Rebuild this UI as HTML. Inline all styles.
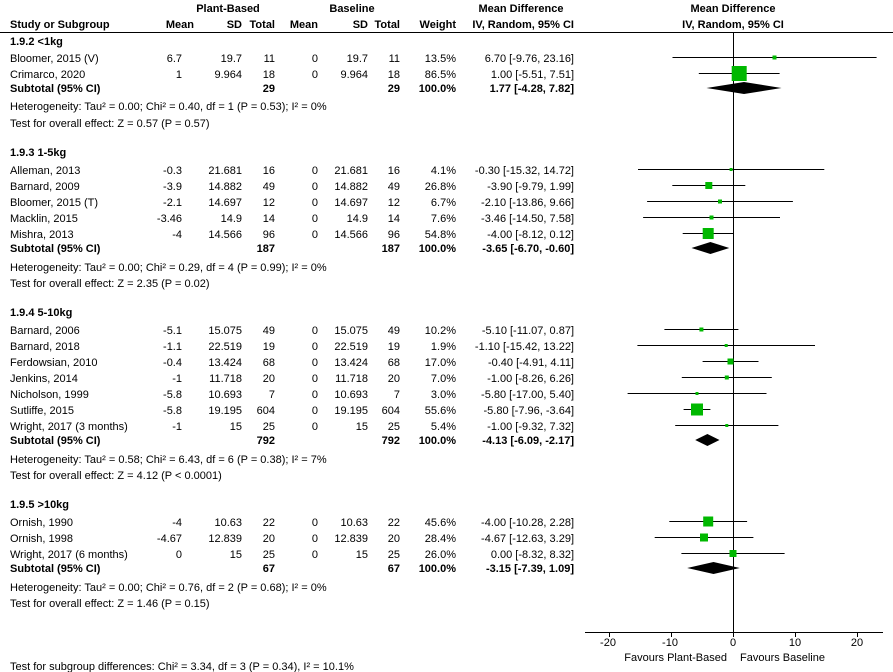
<!DOCTYPE html>
<html><head><meta charset="utf-8"><style>
body{margin:0;background:#fff}
svg{display:block}
text{font-family:"Liberation Sans",Arial,sans-serif;font-size:11px;fill:#000}
.b{font-weight:bold}
.r{text-anchor:end}
.c{text-anchor:middle}
.l{stroke:#000;stroke-width:1}
.sq{fill:#00b800}
</style></head><body>
<svg width="893" height="672" viewBox="0 0 893 672">
<!-- headers -->
<text class="b c" x="228" y="12">Plant-Based</text>
<text class="b c" x="352" y="12">Baseline</text>
<text class="b c" x="521" y="12">Mean Difference</text>
<text class="b c" x="733" y="12">Mean Difference</text>
<text class="b" x="10" y="28">Study or Subgroup</text>
<text class="b r" x="194" y="28">Mean</text>
<text class="b r" x="242" y="28">SD</text>
<text class="b r" x="275" y="28">Total</text>
<text class="b r" x="318" y="28">Mean</text>
<text class="b r" x="368" y="28">SD</text>
<text class="b r" x="400" y="28">Total</text>
<text class="b r" x="456" y="28">Weight</text>
<text class="b r" x="574" y="28">IV, Random, 95% CI</text>
<text class="b c" x="733" y="28">IV, Random, 95% CI</text>
<line class="l" x1="0" y1="32.5" x2="893" y2="32.5"/>
<line class="l" x1="733.5" y1="32" x2="733.5" y2="632"/>

<g id="t">
<text class="b" x="10" y="45">1.9.2 &lt;1kg</text>
<text x="10" y="62">Bloomer, 2015 (V)</text><text class="r" x="182" y="62">6.7</text><text class="r" x="242" y="62">19.7</text><text class="r" x="275" y="62">11</text><text class="r" x="318" y="62">0</text><text class="r" x="368" y="62">19.7</text><text class="r" x="400" y="62">11</text><text class="r" x="456" y="62">13.5%</text><text class="r" x="574" y="62">6.70 [-9.76, 23.16]</text>
<text x="10" y="78">Crimarco, 2020</text><text class="r" x="182" y="78">1</text><text class="r" x="242" y="78">9.964</text><text class="r" x="275" y="78">18</text><text class="r" x="318" y="78">0</text><text class="r" x="368" y="78">9.964</text><text class="r" x="400" y="78">18</text><text class="r" x="456" y="78">86.5%</text><text class="r" x="574" y="78">1.00 [-5.51, 7.51]</text>
<text class="b" x="10" y="92">Subtotal (95% CI)</text><text class="b r" x="275" y="92">29</text><text class="b r" x="400" y="92">29</text><text class="b r" x="456" y="92">100.0%</text><text class="b r" x="574" y="92">1.77 [-4.28, 7.82]</text>
<text x="10" y="110">Heterogeneity: Tau² = 0.00; Chi² = 0.40, df = 1 (P = 0.53); I² = 0%</text>
<text x="10" y="127">Test for overall effect: Z = 0.57 (P = 0.57)</text>

<text class="b" x="10" y="156">1.9.3 1-5kg</text>
<text x="10" y="174">Alleman, 2013</text><text class="r" x="182" y="174">-0.3</text><text class="r" x="242" y="174">21.681</text><text class="r" x="275" y="174">16</text><text class="r" x="318" y="174">0</text><text class="r" x="368" y="174">21.681</text><text class="r" x="400" y="174">16</text><text class="r" x="456" y="174">4.1%</text><text class="r" x="574" y="174">-0.30 [-15.32, 14.72]</text>
<text x="10" y="190">Barnard, 2009</text><text class="r" x="182" y="190">-3.9</text><text class="r" x="242" y="190">14.882</text><text class="r" x="275" y="190">49</text><text class="r" x="318" y="190">0</text><text class="r" x="368" y="190">14.882</text><text class="r" x="400" y="190">49</text><text class="r" x="456" y="190">26.8%</text><text class="r" x="574" y="190">-3.90 [-9.79, 1.99]</text>
<text x="10" y="206">Bloomer, 2015 (T)</text><text class="r" x="182" y="206">-2.1</text><text class="r" x="242" y="206">14.697</text><text class="r" x="275" y="206">12</text><text class="r" x="318" y="206">0</text><text class="r" x="368" y="206">14.697</text><text class="r" x="400" y="206">12</text><text class="r" x="456" y="206">6.7%</text><text class="r" x="574" y="206">-2.10 [-13.86, 9.66]</text>
<text x="10" y="222">Macklin, 2015</text><text class="r" x="182" y="222">-3.46</text><text class="r" x="242" y="222">14.9</text><text class="r" x="275" y="222">14</text><text class="r" x="318" y="222">0</text><text class="r" x="368" y="222">14.9</text><text class="r" x="400" y="222">14</text><text class="r" x="456" y="222">7.6%</text><text class="r" x="574" y="222">-3.46 [-14.50, 7.58]</text>
<text x="10" y="238">Mishra, 2013</text><text class="r" x="182" y="238">-4</text><text class="r" x="242" y="238">14.566</text><text class="r" x="275" y="238">96</text><text class="r" x="318" y="238">0</text><text class="r" x="368" y="238">14.566</text><text class="r" x="400" y="238">96</text><text class="r" x="456" y="238">54.8%</text><text class="r" x="574" y="238">-4.00 [-8.12, 0.12]</text>
<text class="b" x="10" y="252">Subtotal (95% CI)</text><text class="b r" x="275" y="252">187</text><text class="b r" x="400" y="252">187</text><text class="b r" x="456" y="252">100.0%</text><text class="b r" x="574" y="252">-3.65 [-6.70, -0.60]</text>
<text x="10" y="271">Heterogeneity: Tau² = 0.00; Chi² = 0.29, df = 4 (P = 0.99); I² = 0%</text>
<text x="10" y="287">Test for overall effect: Z = 2.35 (P = 0.02)</text>

<text class="b" x="10" y="316">1.9.4 5-10kg</text>
<text x="10" y="334">Barnard, 2006</text><text class="r" x="182" y="334">-5.1</text><text class="r" x="242" y="334">15.075</text><text class="r" x="275" y="334">49</text><text class="r" x="318" y="334">0</text><text class="r" x="368" y="334">15.075</text><text class="r" x="400" y="334">49</text><text class="r" x="456" y="334">10.2%</text><text class="r" x="574" y="334">-5.10 [-11.07, 0.87]</text>
<text x="10" y="350">Barnard, 2018</text><text class="r" x="182" y="350">-1.1</text><text class="r" x="242" y="350">22.519</text><text class="r" x="275" y="350">19</text><text class="r" x="318" y="350">0</text><text class="r" x="368" y="350">22.519</text><text class="r" x="400" y="350">19</text><text class="r" x="456" y="350">1.9%</text><text class="r" x="574" y="350">-1.10 [-15.42, 13.22]</text>
<text x="10" y="366">Ferdowsian, 2010</text><text class="r" x="182" y="366">-0.4</text><text class="r" x="242" y="366">13.424</text><text class="r" x="275" y="366">68</text><text class="r" x="318" y="366">0</text><text class="r" x="368" y="366">13.424</text><text class="r" x="400" y="366">68</text><text class="r" x="456" y="366">17.0%</text><text class="r" x="574" y="366">-0.40 [-4.91, 4.11]</text>
<text x="10" y="382">Jenkins, 2014</text><text class="r" x="182" y="382">-1</text><text class="r" x="242" y="382">11.718</text><text class="r" x="275" y="382">20</text><text class="r" x="318" y="382">0</text><text class="r" x="368" y="382">11.718</text><text class="r" x="400" y="382">20</text><text class="r" x="456" y="382">7.0%</text><text class="r" x="574" y="382">-1.00 [-8.26, 6.26]</text>
<text x="10" y="398">Nicholson, 1999</text><text class="r" x="182" y="398">-5.8</text><text class="r" x="242" y="398">10.693</text><text class="r" x="275" y="398">7</text><text class="r" x="318" y="398">0</text><text class="r" x="368" y="398">10.693</text><text class="r" x="400" y="398">7</text><text class="r" x="456" y="398">3.0%</text><text class="r" x="574" y="398">-5.80 [-17.00, 5.40]</text>
<text x="10" y="414">Sutliffe, 2015</text><text class="r" x="182" y="414">-5.8</text><text class="r" x="242" y="414">19.195</text><text class="r" x="275" y="414">604</text><text class="r" x="318" y="414">0</text><text class="r" x="368" y="414">19.195</text><text class="r" x="400" y="414">604</text><text class="r" x="456" y="414">55.6%</text><text class="r" x="574" y="414">-5.80 [-7.96, -3.64]</text>
<text x="10" y="430">Wright, 2017 (3 months)</text><text class="r" x="182" y="430">-1</text><text class="r" x="242" y="430">15</text><text class="r" x="275" y="430">25</text><text class="r" x="318" y="430">0</text><text class="r" x="368" y="430">15</text><text class="r" x="400" y="430">25</text><text class="r" x="456" y="430">5.4%</text><text class="r" x="574" y="430">-1.00 [-9.32, 7.32]</text>
<text class="b" x="10" y="444">Subtotal (95% CI)</text><text class="b r" x="275" y="444">792</text><text class="b r" x="400" y="444">792</text><text class="b r" x="456" y="444">100.0%</text><text class="b r" x="574" y="444">-4.13 [-6.09, -2.17]</text>
<text x="10" y="463">Heterogeneity: Tau² = 0.58; Chi² = 6.43, df = 6 (P = 0.38); I² = 7%</text>
<text x="10" y="479">Test for overall effect: Z = 4.12 (P &lt; 0.0001)</text>

<text class="b" x="10" y="508">1.9.5 &gt;10kg</text>
<text x="10" y="526">Ornish, 1990</text><text class="r" x="182" y="526">-4</text><text class="r" x="242" y="526">10.63</text><text class="r" x="275" y="526">22</text><text class="r" x="318" y="526">0</text><text class="r" x="368" y="526">10.63</text><text class="r" x="400" y="526">22</text><text class="r" x="456" y="526">45.6%</text><text class="r" x="574" y="526">-4.00 [-10.28, 2.28]</text>
<text x="10" y="542">Ornish, 1998</text><text class="r" x="182" y="542">-4.67</text><text class="r" x="242" y="542">12.839</text><text class="r" x="275" y="542">20</text><text class="r" x="318" y="542">0</text><text class="r" x="368" y="542">12.839</text><text class="r" x="400" y="542">20</text><text class="r" x="456" y="542">28.4%</text><text class="r" x="574" y="542">-4.67 [-12.63, 3.29]</text>
<text x="10" y="558">Wright, 2017 (6 months)</text><text class="r" x="182" y="558">0</text><text class="r" x="242" y="558">15</text><text class="r" x="275" y="558">25</text><text class="r" x="318" y="558">0</text><text class="r" x="368" y="558">15</text><text class="r" x="400" y="558">25</text><text class="r" x="456" y="558">26.0%</text><text class="r" x="574" y="558">0.00 [-8.32, 8.32]</text>
<text class="b" x="10" y="572">Subtotal (95% CI)</text><text class="b r" x="275" y="572">67</text><text class="b r" x="400" y="572">67</text><text class="b r" x="456" y="572">100.0%</text><text class="b r" x="574" y="572">-3.15 [-7.39, 1.09]</text>
<text x="10" y="591">Heterogeneity: Tau² = 0.00; Chi² = 0.76, df = 2 (P = 0.68); I² = 0%</text>
<text x="10" y="607">Test for overall effect: Z = 1.46 (P = 0.15)</text>

<text x="10" y="670">Test for subgroup differences: Chi² = 3.34, df = 3 (P = 0.34), I² = 10.1%</text>
</g>

<!-- CI lines -->
<g class="l">
<line x1="672.5" y1="57.5" x2="876.6" y2="57.5"/>
<line x1="698.8" y1="73.5" x2="779.6" y2="73.5"/>
<line x1="638" y1="169.5" x2="824.3" y2="169.5"/>
<line x1="672.3" y1="185.5" x2="745.3" y2="185.5"/>
<line x1="647.1" y1="201.5" x2="792.9" y2="201.5"/>
<line x1="643.1" y1="217.5" x2="780" y2="217.5"/>
<line x1="682.7" y1="233.5" x2="733.7" y2="233.5"/>
<line x1="664.4" y1="329.5" x2="738.4" y2="329.5"/>
<line x1="637.4" y1="345.5" x2="815" y2="345.5"/>
<line x1="702.6" y1="361.5" x2="758.5" y2="361.5"/>
<line x1="681.8" y1="377.5" x2="771.8" y2="377.5"/>
<line x1="627.6" y1="393.5" x2="766.5" y2="393.5"/>
<line x1="683.6" y1="409.5" x2="710.4" y2="409.5"/>
<line x1="675.2" y1="425.5" x2="778.4" y2="425.5"/>
<line x1="669.3" y1="521.5" x2="747.1" y2="521.5"/>
<line x1="654.7" y1="537.5" x2="753.4" y2="537.5"/>
<line x1="681.4" y1="553.5" x2="784.6" y2="553.5"/>
</g>
<!-- squares -->
<g class="sq">
<rect x="772.5" y="55.5" width="4" height="4"/>
<rect x="731.7" y="66" width="15" height="15"/>
<rect x="729.6" y="168" width="3" height="3"/>
<rect x="705.3" y="182" width="7" height="7"/>
<rect x="718" y="199.5" width="4" height="4"/>
<rect x="709.5" y="215.5" width="4" height="4"/>
<rect x="702.7" y="228" width="11" height="11"/>
<rect x="699.4" y="327.5" width="4" height="4"/>
<rect x="724.7" y="344" width="3" height="3"/>
<rect x="727.5" y="358.5" width="6" height="6"/>
<rect x="724.8" y="375.5" width="4" height="4"/>
<rect x="695.5" y="392" width="3" height="3"/>
<rect x="691" y="403.5" width="12" height="12"/>
<rect x="725.3" y="424" width="3" height="3"/>
<rect x="703.2" y="516.5" width="10" height="10"/>
<rect x="700" y="533.5" width="8" height="8"/>
<rect x="729.5" y="550" width="7" height="7"/>
</g>
<!-- diamonds -->
<g fill="#000">
<polygon points="706.5,88 744,82 781.5,88 744,94"/>
<polygon points="691.5,248 710.4,242 729.3,248 710.4,254"/>
<polygon points="695.2,440 707.4,434 719.5,440 707.4,446"/>
<polygon points="687.2,568 713.5,562 739.8,568 713.5,574"/>
</g>
<!-- axis -->
<g class="l">
<line x1="585" y1="632.5" x2="883" y2="632.5"/>
<line x1="609.5" y1="632" x2="609.5" y2="637"/>
<line x1="671.5" y1="632" x2="671.5" y2="637"/>
<line x1="733.5" y1="632" x2="733.5" y2="637"/>
<line x1="795.5" y1="632" x2="795.5" y2="637"/>
<line x1="857.5" y1="632" x2="857.5" y2="637"/>
</g>
<text class="c" x="608" y="646">-20</text>
<text class="c" x="670" y="646">-10</text>
<text class="c" x="733" y="646">0</text>
<text class="c" x="795" y="646">10</text>
<text class="c" x="857" y="646">20</text>
<text class="r" x="727" y="661">Favours Plant-Based</text>
<text x="740" y="661">Favours Baseline</text>
</svg>
</body></html>
